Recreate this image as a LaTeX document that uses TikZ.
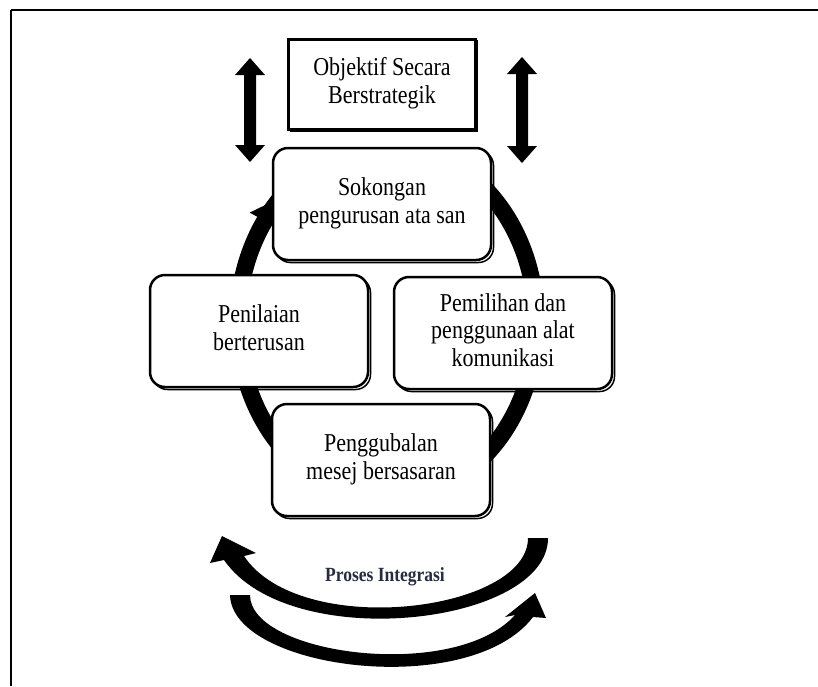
\documentclass[tikz,border=0pt]{standalone}
\usepackage{fontspec}
\setmainfont{Liberation Serif}
\definecolor{proc}{RGB}{40,44,62}
\newcommand\vst[1]{\scalebox{1}[1.17]{\begin{tabular}{@{}c@{}}#1\end{tabular}}}
\begin{document}
\begin{tikzpicture}[x=1pt,y=-1pt,
  boxtext/.style={font=\fontsize{22}{23.5}\selectfont, align=center, text=black},
  roundbox/.style={boxtext, draw=black, line width=2.5pt, fill=white, rounded corners=15pt,
     minimum width=218pt, minimum height=112pt, inner sep=0pt,
     preaction={draw=black, line width=1.5pt, transform canvas={xshift=2.5pt,yshift=-2.5pt}}},
  sqbox/.style={boxtext, draw=black, line width=3pt, fill=white,
     minimum width=187pt, minimum height=90pt, inner sep=0pt,
     preaction={draw=black, line width=1.5pt, transform canvas={xshift=2pt,yshift=-2pt}}},
  ring/.style={draw=black, line width=17pt},
  blockarrow/.style={fill=black}
]
\useasboundingbox (0,0) rectangle (818,686);
\fill[white] (0,0) rectangle (818,686);
% frame
\draw[line width=2pt] (11,10) -- (818,10);
\draw[line width=1.5pt] (11,10) -- (11,686);

% cycle ring
\begin{scope}
\clip (0,150) rectangle (818,686);
\draw[ring] (387,322) ellipse [x radius=149pt, y radius=177pt];
\end{scope}
\fill (249.7,212.6) -- (276.7,199.5) -- (279.3,228.8) -- cycle;

% vertical double arrows
\fill[blockarrow] (250,58) -- (265,75) -- (256,75) -- (256,145) -- (265,145) -- (250,162)
   -- (235,145) -- (244,145) -- (244,75) -- (235,75) -- cycle;
\fill[blockarrow] (522,57) -- (537,74) -- (528,74) -- (528,146) -- (537,146) -- (522,163)
   -- (507,146) -- (516,146) -- (516,74) -- (507,74) -- cycle;

% boxes
\node[sqbox] (obj) at (382,84) {\vst{Objektif Secara\\Berstrategik}};
\node[roundbox] (sok) at (382,204) {\vst{Sokongan\\pengurusan ata san}};
\node[roundbox] (pen) at (259,331) {\vst{Penilaian\\berterusan}};
\node[roundbox] (pem) at (503,333) {\vst{Pemilihan dan\\penggunaan alat\\komunikasi}};
\node[roundbox] (peng) at (381,460) {\vst{Penggubalan\\mesej bersasaran}};

% integration arrows
\fill (528,538) -- (548,538) .. controls (548,625) and (290,655) .. (224,560)
   -- (210,563) -- (222,536) -- (256,553) -- (244,556)
   .. controls (300,640) and (528,612) .. (528,538) -- cycle;
\fill (230,595) -- (250,595) .. controls (250,655) and (455,682) .. (515,615)
   -- (505,617) -- (535,593) -- (546,618) -- (533,617)
   .. controls (470,700) and (232,670) .. (230,595) -- cycle;
\node[font=\bfseries\fontsize{17.5}{20}\selectfont, text=proc] (proc) at (385,577)
   {\scalebox{1}[1.15]{Proses Integrasi}};
\end{tikzpicture}
\end{document}
